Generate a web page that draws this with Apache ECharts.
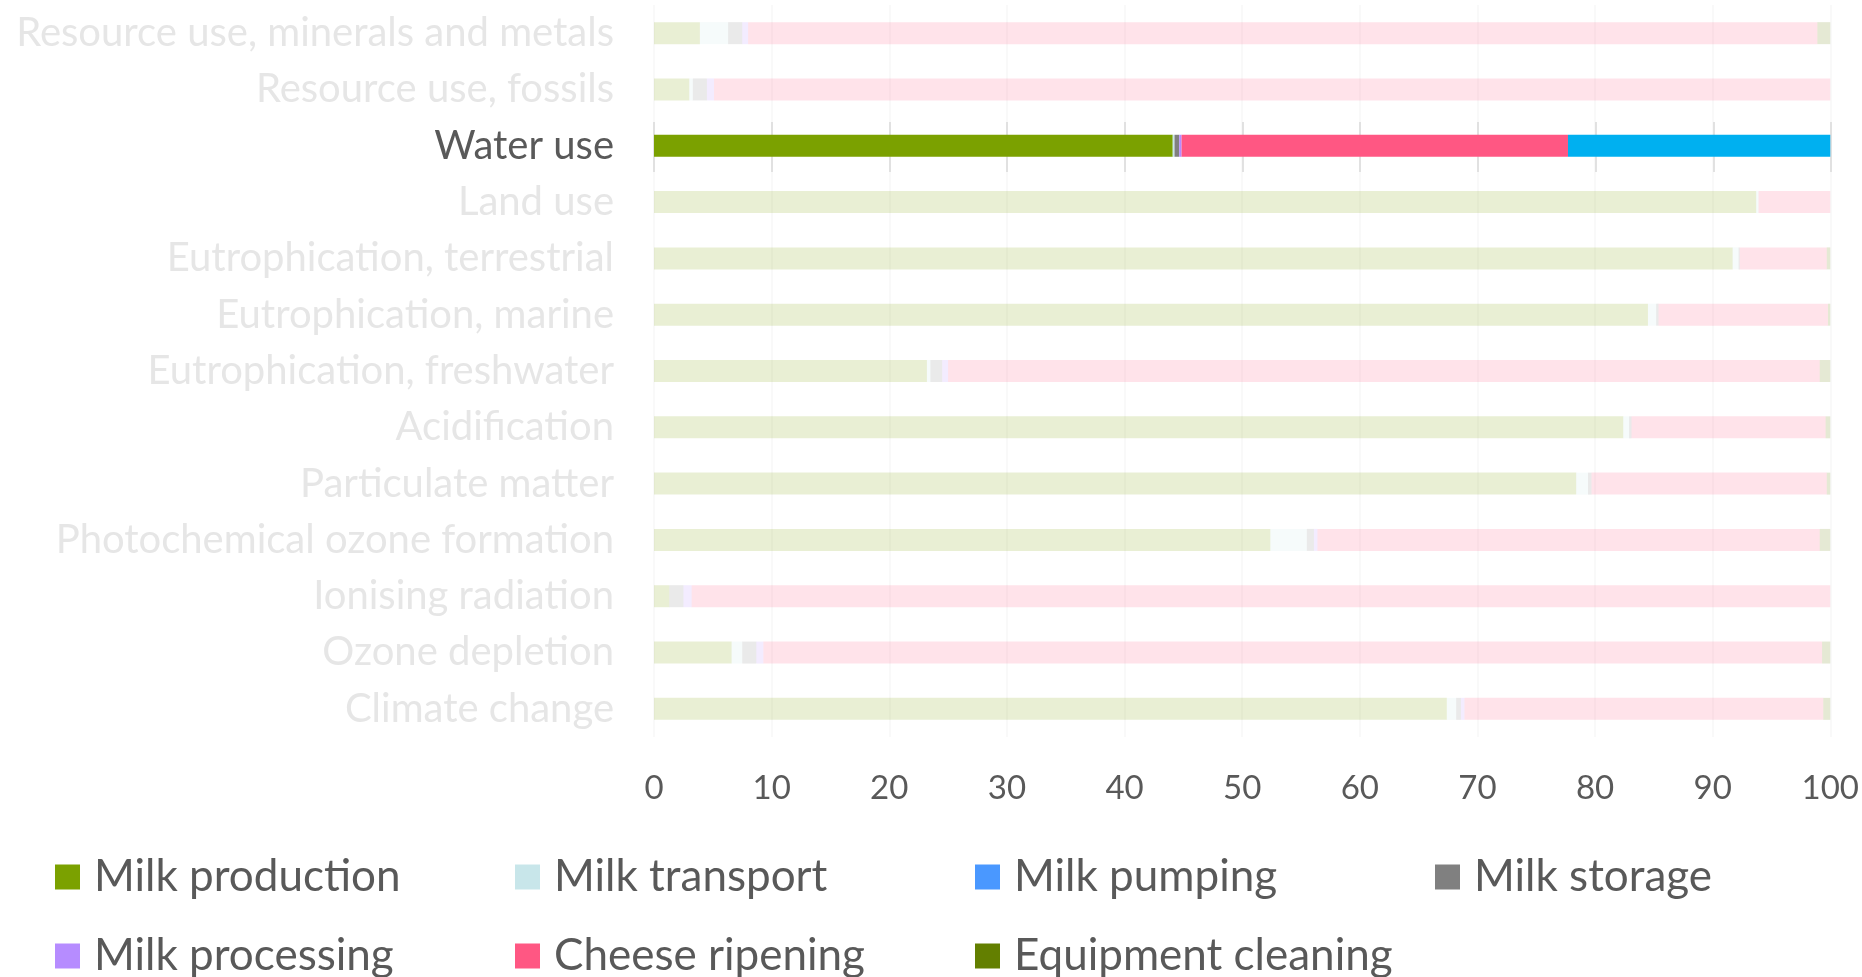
<!DOCTYPE html>
<html>
<head>
<meta charset="utf-8">
<script src="https://cdn.jsdelivr.net/npm/echarts@6/dist/echarts.min.js"></script>
<style>
  html, body { margin: 0; padding: 0; background: #ffffff; }
  #chart { width: 1862px; height: 977px; }
</style>
</head>
<body>
<div id="chart"></div>
<script>
// Impact categories, bottom to top as the category axis lists them
const categories = [
  'Climate change',
  'Ozone depletion',
  'Ionising radiation',
  'Photochemical ozone formation',
  'Particulate matter',
  'Acidification',
  'Eutrophication, freshwater',
  'Eutrophication, marine',
  'Eutrophication, terrestrial',
  'Land use',
  'Water use',
  'Resource use, fossils',
  'Resource use, minerals and metals'
];

// The category shown in full colour; every other row is dimmed
const focusCategory = 'Water use';

const stageNames = [
  'Milk production', 'Milk transport', 'Milk pumping', 'Milk storage',
  'Milk processing', 'Cheese ripening', 'Equipment cleaning'
];
const stageColors = ['#7BA100', '#C8E6EA', '#4A98FF', '#808080', '#B68CFF', '#FF5783', '#637F00'];
const focusCleaningColor = '#00B0F0';

// Contribution of each stage (%), same order as categories
const milkProduction    = [67.4, 6.6, 1.3, 52.4, 78.4, 82.4, 23.2, 84.5, 91.7, 93.7, 44.1, 3.0, 3.9];
const milkTransport     = [0.8, 0.9, 0.0, 3.1, 1.0, 0.5, 0.3, 0.7, 0.5, 0.2, 0.15, 0.3, 2.4];
const milkPumping       = [0, 0, 0, 0, 0, 0, 0, 0, 0, 0, 0, 0, 0];
const milkStorage       = [0.4, 1.2, 1.2, 0.6, 0.3, 0.2, 1.0, 0.2, 0.1, 0.0, 0.4, 1.2, 1.2];
const milkProcessing    = [0.3, 0.6, 0.7, 0.3, 0.0, 0.0, 0.5, 0.0, 0.0, 0.0, 0.2, 0.6, 0.5];
const cheeseRipening    = [30.5, 90.0, 96.8, 42.7, 20.0, 16.5, 74.1, 14.4, 7.4, 6.1, 32.85, 94.9, 90.9];
const equipmentCleaning = [0.6, 0.7, 0.0, 0.9, 0.3, 0.4, 0.9, 0.2, 0.3, 0.0, 22.3, 0.0, 1.1];

const stageValues = [milkProduction, milkTransport, milkPumping, milkStorage,
                     milkProcessing, cheeseRipening, equipmentCleaning];

const xMin = 0, xMax = 100, xStep = 10;

const FONT = 'Lato';
const dimOpacity = 0.17;
const focusIndex = categories.indexOf(focusCategory);

const series = stageNames.map((name, s) => ({
  name: name,
  type: 'bar',
  stack: 'total',
  xAxisIndex: 0,
  yAxisIndex: 0,
  barWidth: 22,
  itemStyle: { color: stageColors[s] },
  emphasis: { disabled: true },
  data: stageValues[s].map((v, i) => {
    if (i === focusIndex) {
      return s === stageNames.length - 1
        ? { value: v, itemStyle: { color: focusCleaningColor } }
        : { value: v };
    }
    return { value: v, itemStyle: { opacity: dimOpacity } };
  })
}));

// Legend laid out as a 4-column table: one legend component per entry
const legendColumns = 4;
const legendLeft = 55, legendColWidth = 460;
const legendRowTops = [855, 934];
const legends = stageNames.map((name, k) => ({
  left: legendLeft + (k % legendColumns) * legendColWidth,
  top: legendRowTops[Math.floor(k / legendColumns)],
  padding: 0,
  itemWidth: 25, itemHeight: 25,
  icon: 'rect',
  selectedMode: false,
  data: [name],
  formatter: (n) => '{t|' + n + '}',
  textStyle: {
    color: '#595959', fontFamily: FONT, fontSize: 44, lineHeight: 25,
    rich: { t: { padding: [0, 0, 0, 9], fontSize: 44, lineHeight: 25, fontFamily: FONT, color: '#595959' } }
  }
}));

const chart = echarts.init(document.getElementById('chart'), null, { renderer: 'canvas' });

chart.setOption({
  animation: false,
  backgroundColor: '#ffffff',
  textStyle: { fontFamily: FONT },
  grid: [
    { left: 654, right: 31, top: 5, bottom: 240, containLabel: false },
    // band behind the focused row, where the grid lines stay at full strength
    { left: 654, right: 31, top: 122, height: 50, containLabel: false }
  ],
  xAxis: [
    {
      gridIndex: 0, type: 'value', min: xMin, max: xMax, interval: xStep,
      axisLine: { show: false }, axisTick: { show: false },
      splitLine: { show: true, lineStyle: { color: '#F7F7F7', width: 1.5 } },
      axisLabel: { color: '#595959', fontSize: 33, fontFamily: FONT, margin: 35 }
    },
    {
      gridIndex: 1, type: 'value', min: xMin, max: xMax, interval: xStep,
      axisLine: { show: false }, axisTick: { show: false }, axisLabel: { show: false },
      splitLine: { show: true, lineStyle: { color: '#D9D9D9', width: 1.5 } }
    }
  ],
  yAxis: [
    {
      gridIndex: 0, type: 'category', data: categories,
      axisLine: { show: false }, axisTick: { show: false },
      axisLabel: {
        fontSize: 40, fontFamily: FONT, margin: 40,
        color: (value) => value === focusCategory ? '#595959' : '#E6E6E6'
      }
    },
    { gridIndex: 1, type: 'value', min: 0, max: 1, show: false }
  ],
  legend: legends,
  series: series
});
</script>
</body>
</html>
